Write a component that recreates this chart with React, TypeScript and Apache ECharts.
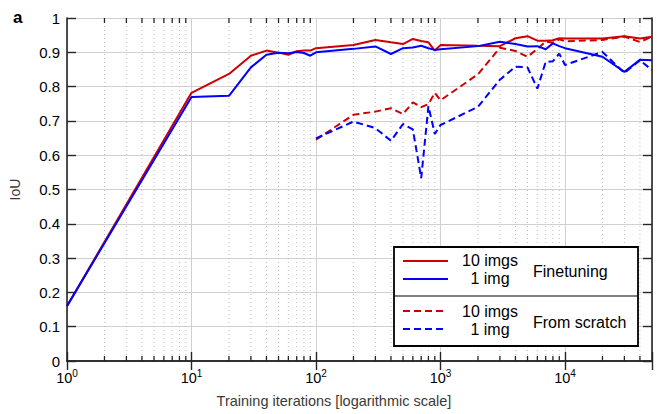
import React, { useEffect, useRef } from 'react';
import * as echarts from 'echarts';

// Training iteration counts (logarithmic schedule)
const iterations = [
  1, 10, 20, 30, 40, 50, 60, 70, 80, 90, 100, 200, 300, 400, 500, 600, 700, 800, 900,
  1000, 2000, 3000, 4000, 5000, 6000, 7000, 8000, 9000, 10000, 20000, 30000, 40000, 50000,
];
const scratchIterations = [
  100, 200, 300, 400, 500, 600, 700, 800, 900, 1000, 2000, 3000, 4000, 5000, 6000, 7000,
  8000, 9000, 10000, 20000, 30000, 40000, 50000,
];

// IoU values
const finetune10 = [
  0.16, 0.782, 0.837, 0.89, 0.905, 0.899, 0.893, 0.903, 0.905, 0.905, 0.912, 0.921, 0.936,
  0.929, 0.924, 0.939, 0.933, 0.929, 0.905, 0.921, 0.919, 0.918, 0.941, 0.947, 0.934, 0.934,
  0.935, 0.941, 0.94, 0.94, 0.947, 0.94, 0.945,
];
const finetune1 = [
  0.16, 0.77, 0.773, 0.856, 0.893, 0.899, 0.897, 0.901, 0.898, 0.89, 0.9, 0.91, 0.917, 0.895,
  0.912, 0.914, 0.919, 0.912, 0.907, 0.909, 0.918, 0.931, 0.924, 0.917, 0.918, 0.909, 0.926,
  0.918, 0.912, 0.887, 0.843, 0.878, 0.877,
];
const scratch10 = [
  0.645, 0.718, 0.727, 0.737, 0.72, 0.754, 0.74, 0.749, 0.782, 0.76, 0.836, 0.913, 0.904,
  0.887, 0.91, 0.931, 0.928, 0.938, 0.932, 0.936, 0.946, 0.93, 0.946,
];
const scratch1 = [
  0.649, 0.698, 0.679, 0.642, 0.691, 0.675, 0.533, 0.743, 0.662, 0.688, 0.741, 0.82, 0.858,
  0.856, 0.794, 0.872, 0.874, 0.896, 0.863, 0.901, 0.84, 0.877, 0.848,
];

// Minor tick positions on the logarithmic x axis
const minorTicks = [
  2, 3, 4, 5, 6, 7, 8, 9,
  20, 30, 40, 50, 60, 70, 80, 90,
  200, 300, 400, 500, 600, 700, 800, 900,
  2000, 3000, 4000, 5000, 6000, 7000, 8000, 9000,
  20000, 30000, 40000,
];

const FONT = '"Liberation Sans", Arial, Helvetica, sans-serif';
const AXIS = '#262626';
const RED = '#cc0000';
const BLUE = '#0000ff';

const zip = (xs: number[], ys: number[]) => xs.map((x, i) => [x, ys[i]]);

function buildOption(): echarts.EChartsOption {
  const lineSeries = (
    name: string,
    xs: number[],
    ys: number[],
    color: string,
    dashed: boolean,
  ) => ({
    name,
    type: 'line' as const,
    data: zip(xs, ys),
    showSymbol: false,
    symbol: 'none',
    z: 3,
    lineStyle: {
      color,
      width: 2,
      type: dashed ? ([7, 4] as number[]) : ('solid' as const),
    },
  });

  const legendText = (text: string, x: number, y: number, align: 'center' | 'left') => ({
    type: 'text' as const,
    x,
    y,
    z: 102,
    style: {
      text,
      textAlign: align,
      textVerticalAlign: 'middle',
      fontSize: 16,
      fontFamily: FONT,
      fill: '#000',
    },
  });
  const legendLine = (y: number, color: string, dashed: boolean) => ({
    type: 'line' as const,
    z: 102,
    shape: { x1: 403, y1: y, x2: dashed ? 446 : 448, y2: y },
    style: { stroke: color, lineWidth: 2, lineDash: dashed ? [7, 4] : undefined },
  });

  return {
    animation: false,
    backgroundColor: '#ffffff',
    grid: { left: 67, top: 18, width: 585, height: 343 },
    xAxis: [
      {
        type: 'log',
        logBase: 10,
        min: 1,
        max: 50000,
        position: 'bottom',
        axisLine: { lineStyle: { color: AXIS, width: 1.6 } },
        axisTick: { inside: true, length: 9, lineStyle: { color: AXIS, width: 1.4 } },
        axisLabel: {
          margin: 7,
          color: '#000',
          formatter: (v: number) => {
            const l = Math.log10(v);
            const e = Math.round(l);
            if (Math.abs(l - e) > 1e-6) return '';
            return `{b|10}{s|${e}}`;
          },
          rich: {
            b: { fontSize: 14.5, fontFamily: FONT, color: '#000', lineHeight: 20 },
            s: { fontSize: 10, fontFamily: FONT, color: '#000', lineHeight: 10, verticalAlign: 'top' },
          },
        },
        splitLine: { show: true, lineStyle: { color: '#d0d0d0', width: 1 } },
      },
      {
        type: 'log',
        logBase: 10,
        min: 1,
        max: 50000,
        position: 'top',
        axisLine: { lineStyle: { color: AXIS, width: 1.6 } },
        axisTick: { inside: true, length: 9, lineStyle: { color: AXIS, width: 1.4 } },
        axisLabel: { show: false },
        splitLine: { show: false },
      },
    ],
    yAxis: [
      {
        type: 'value',
        min: 0,
        max: 1,
        interval: 0.1,
        position: 'left',
        axisLine: { show: true, lineStyle: { color: AXIS, width: 1.6 } },
        axisTick: { show: true, inside: true, length: 9, lineStyle: { color: AXIS, width: 1.4 } },
        axisLabel: {
          margin: 7,
          fontSize: 15,
          fontFamily: FONT,
          color: '#000',
          formatter: (v: number) => String(Math.round(v * 10) / 10),
        },
        splitLine: { show: true, lineStyle: { color: '#d0d0d0', width: 1 } },
        name: 'IoU',
        nameLocation: 'middle',
        nameGap: 45,
        nameRotate: 90,
        nameTextStyle: { fontSize: 14, fontFamily: FONT, color: '#3a3a3a' },
      },
      {
        type: 'value',
        min: 0,
        max: 1,
        interval: 0.1,
        position: 'right',
        axisLine: { show: true, lineStyle: { color: AXIS, width: 1.6 } },
        axisTick: { show: true, inside: true, length: 9, lineStyle: { color: AXIS, width: 1.4 } },
        axisLabel: { show: false },
        splitLine: { show: false },
      },
    ],
    series: [
      {
        // dotted minor grid lines plus short minor ticks on the top and bottom edges
        type: 'custom',
        name: 'minor',
        xAxisIndex: 0,
        yAxisIndex: 0,
        z: 1,
        silent: true,
        data: minorTicks.map((m) => [m, 0]),
        encode: { x: 0, y: 1 },
        renderItem: (_params: any, api: any) => {
          const x = api.value(0);
          const top = api.coord([x, 1]);
          const bot = api.coord([x, 0]);
          return {
            type: 'group',
            children: [
              {
                type: 'line',
                shape: { x1: top[0], y1: top[1], x2: bot[0], y2: bot[1] },
                style: { stroke: '#bdbdbd', lineWidth: 1, lineDash: [1, 3] },
              },
              {
                type: 'line',
                shape: { x1: bot[0], y1: bot[1], x2: bot[0], y2: bot[1] - 5 },
                style: { stroke: AXIS, lineWidth: 1.3 },
              },
              {
                type: 'line',
                shape: { x1: top[0], y1: top[1], x2: top[0], y2: top[1] + 5 },
                style: { stroke: AXIS, lineWidth: 1.3 },
              },
            ],
          };
        },
      },
      lineSeries('From scratch, 10 imgs', scratchIterations, scratch10, RED, true),
      lineSeries('From scratch, 1 img', scratchIterations, scratch1, BLUE, true),
      lineSeries('Finetuning, 10 imgs', iterations, finetune10, RED, false),
      lineSeries('Finetuning, 1 img', iterations, finetune1, BLUE, false),
    ],
    graphic: [
      {
        type: 'text',
        x: 13,
        y: 17,
        z: 102,
        style: {
          text: 'a',
          fontSize: 17,
          fontWeight: 'bold',
          fontFamily: FONT,
          fill: '#000',
          textVerticalAlign: 'middle',
        },
      },
      {
        // x axis title
        type: 'text',
        x: 334,
        y: 401,
        z: 102,
        style: {
          text: 'Training iterations [logarithmic scale]',
          fontSize: 14.5,
          fontFamily: FONT,
          fill: '#3a3a3a',
          textAlign: 'center',
          textVerticalAlign: 'middle',
        },
      },
      {
        type: 'rect',
        z: 100,
        shape: { x: 394, y: 247, width: 244, height: 99 },
        style: { fill: '#ffffff', stroke: '#000', lineWidth: 1.8 },
      },
      {
        type: 'line',
        z: 101,
        shape: { x1: 394, y1: 296, x2: 638, y2: 296 },
        style: { stroke: '#000', lineWidth: 1.2 },
      },
      legendLine(261, RED, false),
      legendLine(279, BLUE, false),
      legendLine(311, RED, true),
      legendLine(329, BLUE, true),
      legendText('10 imgs', 490, 260, 'center'),
      legendText('1 img', 490, 278, 'center'),
      legendText('Finetuning', 533, 271, 'left'),
      legendText('10 imgs', 490, 311, 'center'),
      legendText('1 img', 490, 329, 'center'),
      legendText('From scratch', 533, 322, 'left'),
    ],
  } as echarts.EChartsOption;
}

export default function App() {
  const ref = useRef<HTMLDivElement>(null);
  useEffect(() => {
    if (!ref.current) return;
    const chart = echarts.init(ref.current, null, { renderer: 'svg' });
    chart.setOption(buildOption());
    return () => chart.dispose();
  }, []);
  return (
    <div
      ref={ref}
      style={{ position: 'fixed', left: 0, top: 0, width: 657, height: 414, background: '#fff' }}
    />
  );
}
